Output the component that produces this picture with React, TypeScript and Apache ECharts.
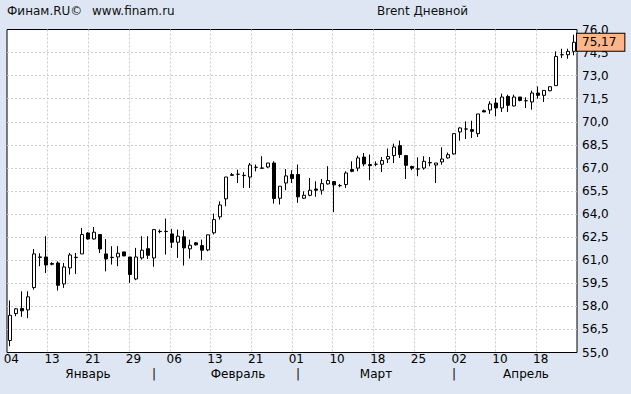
import { useEffect, useRef } from 'react';
import * as echarts from 'echarts';

// Trading days (Finam daily bars, Sun–Fri sessions)
const dates = [
  '2019-01-04',
  '2019-01-07', '2019-01-08', '2019-01-09', '2019-01-10', '2019-01-11',
  '2019-01-13', '2019-01-14', '2019-01-15', '2019-01-16', '2019-01-17', '2019-01-18',
  '2019-01-20', '2019-01-21', '2019-01-22', '2019-01-23', '2019-01-24', '2019-01-25',
  '2019-01-27', '2019-01-28', '2019-01-29', '2019-01-30', '2019-01-31', '2019-02-01',
  '2019-02-03', '2019-02-04', '2019-02-05', '2019-02-06', '2019-02-07', '2019-02-08',
  '2019-02-10', '2019-02-11', '2019-02-12', '2019-02-13', '2019-02-14', '2019-02-15',
  '2019-02-17', '2019-02-18', '2019-02-19', '2019-02-20', '2019-02-21', '2019-02-22',
  '2019-02-24', '2019-02-25', '2019-02-26', '2019-02-27', '2019-02-28', '2019-03-01',
  '2019-03-03', '2019-03-04', '2019-03-05', '2019-03-06', '2019-03-07', '2019-03-08',
  '2019-03-10', '2019-03-11', '2019-03-12', '2019-03-13', '2019-03-14', '2019-03-15',
  '2019-03-17', '2019-03-18', '2019-03-19', '2019-03-20', '2019-03-21', '2019-03-22',
  '2019-03-24', '2019-03-25', '2019-03-26', '2019-03-27', '2019-03-28', '2019-03-29',
  '2019-03-31', '2019-04-01', '2019-04-02', '2019-04-03', '2019-04-04', '2019-04-05',
  '2019-04-07', '2019-04-08', '2019-04-09', '2019-04-10', '2019-04-11', '2019-04-12',
  '2019-04-14', '2019-04-15', '2019-04-16', '2019-04-17', '2019-04-18', '2019-04-19',
  '2019-04-21', '2019-04-22', '2019-04-23', '2019-04-24', '2019-04-25',
];

const open = [
  55.78, 57.53, 57.86, 57.77, 59.22, 61.21, 61.21, 60.78, 60.82, 59.46,
  60.50, 61.19, 61.41, 62.77, 62.38, 62.67, 61.41, 61.19, 61.21, 61.54,
  61.21, 59.78, 61.15, 61.75, 61.15, 62.88, 62.88, 62.71, 62.17, 62.52,
  61.74, 62.13, 61.95, 61.67, 62.78, 63.82, 64.99, 66.56, 66.59, 66.50,
  66.41, 67.04, 67.00, 67.06, 67.32, 65.03, 66.02, 66.57, 66.57, 65.03,
  65.22, 65.63, 65.55, 65.96, 66.11, 65.85, 65.92, 66.89, 66.99, 67.71,
  67.22, 67.24, 67.24, 67.58, 67.80, 68.45, 67.80, 67.09, 66.93, 66.99,
  67.33, 67.19, 67.39, 67.65, 67.91, 69.34, 69.53, 69.49, 69.23, 70.72,
  70.77, 71.22, 70.90, 71.65, 71.03, 71.61, 71.37, 71.29, 71.87, 71.72,
  72.02, 72.35, 74.36, 74.36, 74.58,
];
const close = [
  57.42, 57.84, 57.71, 58.62, 61.41, 61.19, 60.69, 60.74, 59.37, 60.56,
  61.34, 61.17, 62.67, 62.38, 62.82, 61.73, 61.08, 61.17, 61.45, 61.28,
  60.07, 61.21, 61.65, 61.32, 62.99, 62.86, 62.86, 62.17, 62.56, 61.80,
  61.97, 62.00, 61.65, 62.65, 63.64, 64.59, 66.41, 66.52, 66.59, 66.52,
  67.19, 67.04, 66.98, 67.32, 65.01, 65.81, 66.48, 66.31, 65.12, 65.22,
  65.55, 65.55, 65.98, 66.18, 65.90, 65.85, 66.67, 66.78, 67.65, 67.26,
  67.15, 67.24, 67.48, 67.74, 68.36, 67.87, 67.17, 66.98, 66.93, 67.43,
  67.35, 67.32, 67.58, 67.86, 69.23, 69.60, 69.53, 69.38, 70.51, 70.64,
  71.16, 70.90, 71.61, 71.07, 71.61, 71.39, 71.37, 71.87, 71.72, 72.04,
  72.28, 74.25, 74.36, 74.58, 75.17,
];
const low = [
  55.41, 57.36, 57.32, 57.23, 59.09, 60.61, 60.17, 60.67, 59.03, 59.20,
  60.07, 60.11, 61.41, 62.34, 62.34, 61.47, 60.28, 60.72, 60.61, 61.26,
  59.52, 59.70, 61.04, 61.08, 60.57, 62.75, 61.37, 61.80, 61.15, 60.65,
  61.11, 61.95, 61.00, 61.58, 62.67, 63.64, 64.51, 66.50, 66.02, 65.70,
  65.70, 66.78, 66.98, 67.00, 64.68, 64.62, 65.55, 66.03, 64.73, 64.98,
  65.16, 65.12, 65.27, 65.92, 64.12, 65.74, 65.70, 66.72, 66.78, 67.11,
  66.20, 67.11, 66.74, 67.32, 67.32, 67.65, 66.28, 66.85, 66.46, 66.89,
  67.11, 66.02, 67.21, 67.60, 67.86, 68.77, 68.88, 68.95, 69.01, 70.64,
  70.51, 70.35, 70.64, 70.64, 71.00, 71.33, 70.90, 70.79, 71.50, 71.29,
  71.98, 72.35, 74.14, 74.10, 74.32,
];
const high = [
  58.38, 57.88, 58.98, 58.98, 61.73, 61.45, 62.56, 60.87, 60.93, 60.82,
  61.47, 61.47, 63.10, 62.82, 63.16, 62.67, 62.38, 61.91, 61.91, 61.54,
  61.21, 61.80, 62.56, 62.56, 63.03, 63.00, 63.71, 63.04, 62.99, 62.95,
  62.34, 62.17, 62.34, 62.65, 64.03, 64.83, 66.41, 66.67, 66.89, 66.72,
  67.32, 67.22, 67.76, 67.32, 67.43, 65.81, 66.93, 66.85, 67.22, 65.48,
  66.35, 66.13, 66.28, 67.11, 66.13, 65.96, 66.78, 67.43, 67.80, 67.97,
  67.87, 67.43, 67.71, 68.26, 68.58, 68.78, 67.80, 67.15, 67.69, 67.76,
  67.71, 67.32, 68.34, 68.00, 69.27, 69.64, 70.03, 70.07, 70.51, 70.79,
  71.33, 71.55, 71.83, 71.76, 71.76, 71.61, 71.59, 72.02, 72.30, 72.04,
  72.28, 74.58, 74.75, 74.75, 75.66,
];

// Axis ticks / labels
const yTicks = [55, 56.5, 58, 59.5, 61, 62.5, 64, 65.5, 67, 68.5, 70, 71.5, 73, 74.5, 76];
const xGridTicks = [0, 1, 2, 3, 4, 5, 6, 7, 8, 9, 10, 11, 12, 13, 14];
const dayTicks = ['04', '13', '21', '29', '06', '13', '21', '01', '10', '18', '25', '02', '10', '18'];
const months = ['Январь', 'Февраль', 'Март', 'Апрель'];
const monthLabelIdx = [13, 38, 61, 86];
const monthSepIdx = [24, 48, 74];

const FONT = 'DejaVu Sans';
const fmt1 = (v: number) => v.toFixed(1).replace('.', ',');
const fmt2 = (v: number) => v.toFixed(2).replace('.', ',');

function buildOption() {
  const candles = dates.map((_, i) => [open[i], close[i], low[i], high[i]]);
  const last = close[close.length - 1];
  const gridLine = { show: true, lineStyle: { color: '#c9cbd8', width: 1, type: [2, 2] as number[] } };
  const hdr = (text: string, left: number) => ({
    text,
    left,
    top: 5,
    padding: 0,
    textStyle: { fontFamily: FONT, fontSize: 12, fontWeight: 'normal' as const, color: '#111' },
  });
  return {
    animation: false,
    backgroundColor: '#dde6f2',
    textStyle: { fontFamily: FONT, fontSize: 12, color: '#000' },
    title: [hdr('Финам.RU©', 7), hdr('www.finam.ru', 92), hdr('Brent Дневной', 377)],
    grid: {
      left: 7,
      right: 54,
      top: 29.5,
      bottom: 41.5,
      show: true,
      backgroundColor: '#ffffff',
      borderColor: '#000000',
      borderWidth: 1,
    },
    xAxis: [
      {
        type: 'category',
        data: dates,
        position: 'bottom',
        boundaryGap: true,
        axisLine: { show: false },
        axisTick: { show: false },
        axisLabel: { show: false },
        splitLine: { show: false },
      },
      {
        type: 'value',
        min: 0,
        max: 14,
        position: 'bottom',
        axisLine: { show: false },
        // inner grid lines only; the plot border is drawn by the grid
        axisTick: { show: false, customValues: xGridTicks.slice(1, -1) },
        splitLine: gridLine,
        axisLabel: {
          margin: 0,
          customValues: xGridTicks.slice(0, -1),
          formatter: (v: number) => `{d|${dayTicks[Math.round(v)] ?? ''}}`,
          rich: { d: { width: 24, align: 'right', fontFamily: FONT, fontSize: 12, color: '#000' } },
        },
      },
      {
        type: 'category',
        data: dates,
        position: 'bottom',
        offset: 15,
        axisLine: { show: false },
        axisTick: { show: false },
        splitLine: { show: false },
        axisLabel: {
          margin: 0,
          color: '#000',
          fontFamily: FONT,
          fontSize: 12,
          interval: (i: number) => monthLabelIdx.includes(i) || monthSepIdx.includes(i),
          formatter: (_v: string, i: number) => {
            const m = monthLabelIdx.indexOf(i);
            return m >= 0 ? months[m] : '|';
          },
        },
      },
    ],
    yAxis: {
      type: 'value',
      position: 'right',
      min: 55,
      max: 76,
      axisLine: { show: false },
      axisTick: { show: false, customValues: yTicks.slice(1, -1) },
      axisLabel: { customValues: yTicks, formatter: fmt1, margin: 5, color: '#000', fontFamily: FONT, fontSize: 12 },
      splitLine: gridLine,
    },
    series: [
      {
        type: 'candlestick',
        xAxisIndex: 0,
        yAxisIndex: 0,
        data: candles,
        barWidth: 3,
        itemStyle: {
          color: '#ffffff',
          color0: '#000000',
          borderColor: '#000000',
          borderColor0: '#000000',
          borderWidth: 1,
        },
        markLine: {
          silent: true,
          symbol: ['none', 'none'],
          lineStyle: { color: 'rgba(0,0,0,0)', width: 0 },
          data: [{ yAxis: last }],
          label: {
            show: true,
            position: 'end',
            distance: 0,
            opacity: 1,
            formatter: () => fmt2(last),
            backgroundColor: '#fbb58a',
            borderColor: '#000000',
            borderWidth: 1,
            padding: [3, 8, 2, 5],
            color: '#000',
            fontFamily: FONT,
            fontSize: 12,
          },
        },
      },
    ],
  };
}

export default function App() {
  const ref = useRef<HTMLDivElement>(null);
  useEffect(() => {
    if (!ref.current) return;
    const chart = echarts.init(ref.current, null, { renderer: 'svg' });
    chart.setOption(buildOption() as any);
    return () => chart.dispose();
  }, []);
  return <div ref={ref} style={{ position: 'fixed', left: 0, top: 0, width: 631, height: 394 }} />;
}
